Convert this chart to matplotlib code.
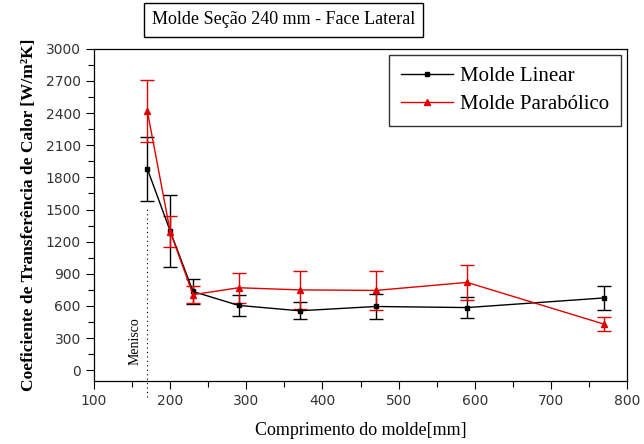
import matplotlib
matplotlib.use("Agg")
import matplotlib.pyplot as plt
from matplotlib.ticker import MultipleLocator
from matplotlib.lines import Line2D

x = [170, 200, 230, 290, 370, 470, 590, 770]
linear = [1880, 1300, 735, 605, 555, 595, 585, 675]
linear_err = [300, 340, 120, 100, 80, 120, 100, 115]
parab = [2420, 1295, 705, 770, 750, 745, 820, 430]
parab_err = [290, 145, 80, 140, 180, 180, 160, 65]
menisco_x = 170

serif = ["Liberation Serif", "DejaVu Serif"]
sans = ["DejaVu Sans", "Liberation Sans"]
red = "#e00000"

fig = plt.figure(figsize=(6.44, 4.44), dpi=100)
ax = fig.add_axes([0.146, 0.142, 0.8276, 0.748])

ax.errorbar(x, linear, yerr=linear_err, color="black", marker="s", markersize=3,
            linewidth=1, elinewidth=1, capsize=5, capthick=1)
ax.errorbar(x, parab, yerr=parab_err, color=red, marker="^", markersize=5,
            linewidth=1, elinewidth=1, capsize=5, capthick=1)

ax.plot([menisco_x, menisco_x], [-250, 1530], linestyle=(0, (1, 3)), color="black",
        linewidth=0.8, clip_on=False)
ax.text(menisco_x - 16, 270, "Menisco", rotation=90, ha="center", va="center",
        fontsize=10, family=serif)

ax.set_xlim(100, 800)
ax.set_ylim(-100, 3000)
ax.xaxis.set_major_locator(MultipleLocator(100))
ax.xaxis.set_minor_locator(MultipleLocator(50))
ax.yaxis.set_major_locator(MultipleLocator(300))
ax.yaxis.set_minor_locator(MultipleLocator(150))
ax.tick_params(which="major", direction="out", length=6, width=0.8, labelsize=10)
ax.tick_params(which="minor", direction="out", length=4, width=0.8)
for lab in ax.get_xticklabels() + ax.get_yticklabels():
    lab.set_family(sans)
    lab.set_color("#333333")
for s in ax.spines.values():
    s.set_linewidth(0.9)

ax.set_xlabel("Comprimento do molde[mm]", family=serif, fontsize=13, labelpad=10)
ax.set_ylabel("Coeficiente de Transferência de Calor [W/m²K]", family=serif,
              fontsize=12.5, fontweight="bold", labelpad=6)

fig.text(0.44, 0.955, "Molde Seção 240 mm - Face Lateral", family=serif, fontsize=13,
         ha="center", va="center",
         bbox=dict(boxstyle="square,pad=0.45", facecolor="white", edgecolor="black",
                   linewidth=1))

handles = [Line2D([], [], color="black", marker="s", markersize=3, linewidth=1),
           Line2D([], [], color=red, marker="^", markersize=5, linewidth=1)]
leg = ax.legend(handles, ["Molde Linear", "Molde Parabólico"], loc="upper right",
                prop={"family": serif, "size": 15}, frameon=True, fancybox=False,
                edgecolor="black", handlelength=2.5, borderpad=0.55,
                labelspacing=0.4, handletextpad=0.35, borderaxespad=0.3)
leg.get_frame().set_linewidth(1)

fig.savefig("out.png", dpi=100)
